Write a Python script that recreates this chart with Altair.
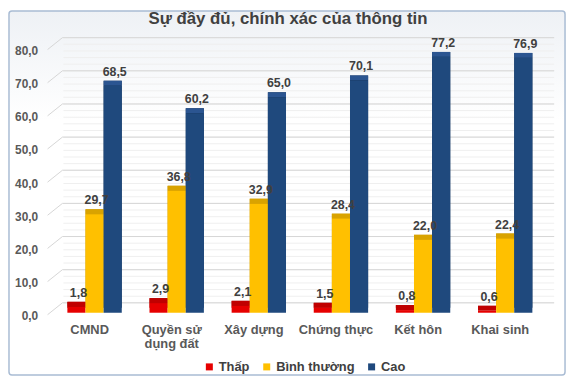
import altair as alt
import pandas as pd

categories = ["CMND", "Quyền sử dụng đất", "Xây dựng", "Chứng thực", "Kết hôn", "Khai sinh"]
series = ["Thấp", "Bình thường", "Cao"]
thap = [1.8, 2.9, 2.1, 1.5, 0.8, 0.6]
binh_thuong = [29.7, 36.8, 32.9, 28.4, 22.0, 22.4]
cao = [68.5, 60.2, 65.0, 70.1, 77.2, 76.9]
y_ticks = [0, 10, 20, 30, 40, 50, 60, 70, 80]
minor_ticks = list(range(0, 81, 2))
title_text = "Sự đầy đủ, chính xác của thông tin"

front_colors = ["#e60000", "#ffc000", "#1f497d"]
side_colors = ["#a00000", "#c49300", "#132e50"]
top_colors = ["#c00000", "#d9a300", "#2b5591"]

FONT = "Liberation Sans"

rows = []
for s, vals in zip(series, [thap, binh_thuong, cao]):
    for c, v in zip(categories, vals):
        rows.append({"cat": c, "series": s, "value": v,
                     "label": f"{v:.1f}".replace(".", ",")})
df = pd.DataFrame(rows)
grid_df = pd.DataFrame({"value": y_ticks})
minor_df = pd.DataFrame({"value": minor_ticks})

yscale = alt.Scale(domain=[0, 80], nice=False, zero=True)
yaxis = alt.Axis(title=None, domain=False, ticks=False, grid=False, zindex=1,
                 values=y_ticks, labelPadding=16, labelOffset=3,
                 labelFontSize=12, labelFontWeight="bold", labelColor="#595959",
                 labelFont=FONT,
                 labelExpr="replace(format(datum.value, '.1f'), '.', ',')")

xaxis = alt.Axis(title=None, domain=False, ticks=False, labelAngle=0, zindex=1,
                 labelPadding=11, labelOffset=-5, labelFontSize=13,
                 labelFontWeight="bold", labelColor="#595959", labelFont=FONT,
                 labelLineHeight=14,
                 labelExpr="datum.value == 'Quyền sử dụng đất' ? ['Quyền sử', 'dụng đất'] : datum.value")

# outer frame
frame = alt.Chart(pd.DataFrame({"a": [0]})).mark_rect(
    stroke="#a9bcd4", strokeWidth=1.5, cornerRadius=3,
    fill=alt.Gradient(gradient="linear",
                      stops=[alt.GradientStop(color="#eef1f5", offset=0),
                             alt.GradientStop(color="#ffffff", offset=0.3),
                             alt.GradientStop(color="#ffffff", offset=1)],
                      x1=0, x2=0, y1=0, y2=1)
).encode(x=alt.value(-45), x2=alt.value(517), y=alt.value(-37), y2=alt.value(331))

title = alt.Chart(pd.DataFrame({"t": [title_text]})).mark_text(
    font=FONT, fontSize=17, fontWeight="bold", color="#404040",
    align="center", baseline="middle"
).encode(text="t:N", x=alt.value(237), y=alt.value(-29))

grid_minor = alt.Chart(minor_df).mark_rule(color="#efefef", strokeWidth=1, yOffset=-10).encode(
    x=alt.value(10), x2=alt.value(506),
    y=alt.Y("value:Q", scale=yscale, axis=yaxis))
grid_h = alt.Chart(grid_df).mark_rule(color="#d6d6d6", strokeWidth=1, yOffset=-10).encode(
    x=alt.value(9), x2=alt.value(506),
    y=alt.Y("value:Q", scale=yscale, axis=yaxis))
grid_d = alt.Chart(grid_df).mark_rule(color="#d6d6d6", strokeWidth=1, yOffset=2, y2Offset=-10).encode(
    x=alt.value(-6), x2=alt.value(9),
    y=alt.Y("value:Q", scale=yscale, axis=yaxis), y2="value:Q")

base = alt.Chart(df).encode(
    x=alt.X("cat:N", sort=categories,
            scale=alt.Scale(paddingInner=0, paddingOuter=0), axis=xaxis),
    xOffset=alt.XOffset("series:N", sort=series,
                        scale=alt.Scale(paddingInner=0, paddingOuter=0.765)),
    y=alt.Y("value:Q", scale=yscale, axis=yaxis),
)

back = base.mark_bar(xOffset=6, yOffset=-5, y2Offset=-5).encode(
    color=alt.Color("series:N", sort=series,
                    scale=alt.Scale(domain=series, range=side_colors), legend=None))
top = base.mark_bar(xOffset=3, yOffset=-5).encode(
    y2="value:Q",
    color=alt.Color("series:N", sort=series,
                    scale=alt.Scale(domain=series, range=top_colors), legend=None))
front = base.mark_bar().encode(
    color=alt.Color("series:N", sort=series,
                    scale=alt.Scale(domain=series, range=front_colors),
                    legend=alt.Legend(title=None, orient="none", legendX=151, legendY=316,
                                      direction="horizontal", symbolType="square",
                                      symbolSize=50, labelFontSize=13,
                                      labelFontWeight="bold", labelColor="#404040",
                                      labelFont=FONT, columnPadding=10, labelOffset=3)))
labels = base.mark_text(dy=-10, dx=2, baseline="alphabetic", align="center",
                        fontSize=12.5, fontWeight="bold", color="#404040",
                        font=FONT).encode(text="label:N")

chart = alt.layer(frame, title, grid_minor, grid_h, grid_d, back, top, front, labels).resolve_scale(
    color="independent"
).properties(
    width=498, height=268,
    autosize=alt.AutoSizeParams(type="none"),
    padding={"left": 46, "top": 38, "right": 22, "bottom": 66},
    background="#ffffff",
).configure_view(stroke=None)

chart.save("out.html", embed_options={"renderer": "svg", "actions": False})
